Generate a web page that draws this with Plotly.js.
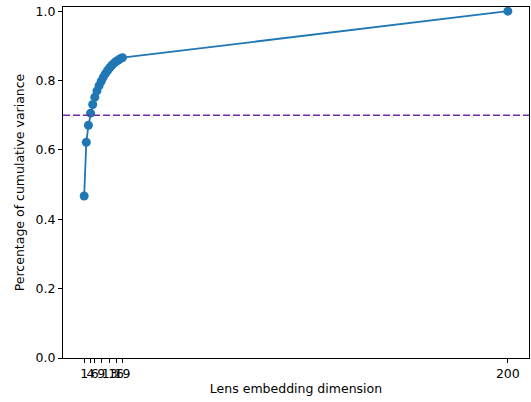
<!DOCTYPE html>
<html>
<head>
<meta charset="utf-8">
<script src="https://cdn.plot.ly/plotly-3.0.1.min.js"></script>
<style>html,body{margin:0;padding:0;background:#fff;}#chart{width:531px;height:402px;}</style>
</head>
<body>
<div id="chart"></div>
<script>
const dims = [1,2,3,4,5,6,7,8,9,10,11,12,13,14,15,16,17,18,19,200];
const cumVar = [0.467,0.622,0.671,0.706,0.731,0.752,0.770,0.785,0.798,0.810,0.820,0.829,0.837,0.844,0.850,0.855,0.859,0.863,0.866,1.0];
const tickVals = [1,4,6,9,13,16,19,200];
const tickText = ["1","4","6","9","13","16","19","200"];
const threshold = 0.7;

const trace = {
  x: dims, y: cumVar, type: 'scatter', mode: 'lines+markers',
  line: {color: '#1f77b4', width: 1.8},
  marker: {color: '#1f77b4', size: 9},
  hoverinfo: 'skip', showlegend: false
};
const layout = {
  width: 531, height: 402,
  margin: {l: 63, r: 2, t: 7, b: 44},
  paper_bgcolor: '#fff', plot_bgcolor: '#fff',
  font: {family: 'DejaVu Sans', size: 12.5, color: '#000'},
  xaxis: {
    range: [-8.95, 209.95], tickmode: 'array', tickvals: tickVals, ticktext: tickText,
    tickangle: 0, ticks: 'outside', ticklen: 4, tickcolor: '#000', showgrid: false, zeroline: false,
    showline: true, linecolor: '#000', linewidth: 1, mirror: true,
    tickfont: {size: 12.5}, title: {text: 'Lens embedding dimension', font: {size: 12.5}, standoff: 4}
  },
  yaxis: {
    range: [0, 1.012], tickvals: [0,0.2,0.4,0.6,0.8,1.0], ticktext: ['0.0','0.2','0.4','0.6','0.8','1.0'],
    ticks: 'outside', ticklen: 4, tickcolor: '#000', showgrid: false, zeroline: false,
    showline: true, linecolor: '#000', linewidth: 1, mirror: true,
    tickfont: {size: 12.5}, title: {text: 'Percentage of cumulative variance', font: {size: 12.5}, standoff: 8}
  },
  shapes: [{type: 'line', xref: 'paper', x0: 0, x1: 1, yref: 'y', y0: threshold, y1: threshold,
    line: {color: '#6f2da8', width: 1.5, dash: '7px,3px'}}]
};
Plotly.newPlot('chart', [trace], layout, {staticPlot: true, displayModeBar: false});
</script>
</body>
</html>
